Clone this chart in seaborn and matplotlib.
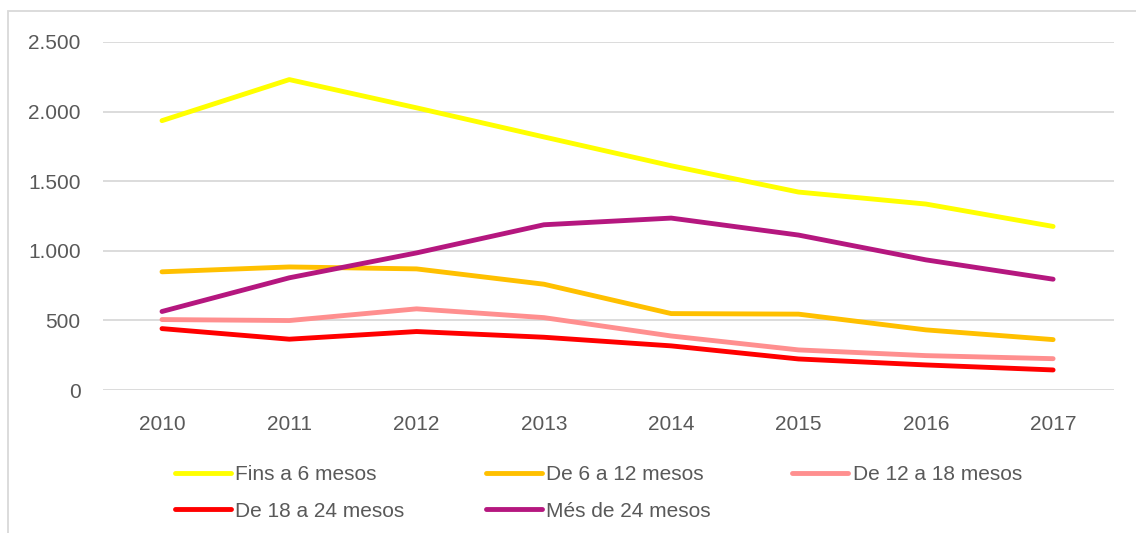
import pandas as pd
import matplotlib
matplotlib.use("Agg")
import matplotlib.pyplot as plt
from matplotlib.patches import Rectangle
from matplotlib.ticker import FuncFormatter
import seaborn as sns

# Data
years = ["2010", "2011", "2012", "2013", "2014", "2015", "2016", "2017"]
fins_6 = [1935, 2230, 2027, 1818, 1611, 1422, 1336, 1175]
de_6_12 = [849, 884, 870, 760, 549, 545, 432, 362]
de_12_18 = [506, 499, 583, 520, 388, 288, 247, 225]
de_18_24 = [441, 365, 420, 379, 317, 223, 180, 144]
mes_24 = [564, 806, 985, 1187, 1235, 1113, 935, 796]

series_names = ["Fins a 6 mesos", "De 6 a 12 mesos", "De 12 a 18 mesos",
                "De 18 a 24 mesos", "Més de 24 mesos"]
series_values = [fins_6, de_6_12, de_12_18, de_18_24, mes_24]
colors = ["#FFFF00", "#FFC000", "#FF8F8F", "#FF0000", "#B5177F"]

# Long form table for seaborn
df = pd.concat(
    [pd.DataFrame({"any": years, "valor": vals, "serie": name})
     for name, vals in zip(series_names, series_values)],
    ignore_index=True,
)

sns.set_style("white")
plt.rcParams["font.family"] = ["Liberation Sans", "DejaVu Sans"]
TEXT_COLOR = "#595959"
GRID_COLOR = "#D9D9D9"

W, H = 1136, 533
fig = plt.figure(figsize=(W / 100, H / 100), dpi=100)

# axes placed in pixel terms
left_px, right_px, top_px, bottom_px = 103, 1114, 42, 390
ax = fig.add_axes([left_px / W, 1 - bottom_px / H,
                   (right_px - left_px) / W, (bottom_px - top_px) / H])

sns.lineplot(
    data=df, x="any", y="valor", hue="serie",
    palette=dict(zip(series_names, colors)),
    linewidth=3.5, solid_capstyle="round", solid_joinstyle="round",
    sort=False, ax=ax, legend=False,
)

# Category axis: 2010 at x=162px, spacing ~127.3px
step = 127.3
ax.set_xlim((left_px - 162) / step, (right_px - 162) / step)
ax.set_ylim(0, 2500)
ax.set_yticks([0, 500, 1000, 1500, 2000, 2500])
ax.yaxis.set_major_formatter(FuncFormatter(lambda v, p: f"{int(v):,}".replace(",", ".")))

ax.grid(axis="y", color=GRID_COLOR, linewidth=1.3)
ax.grid(axis="x", visible=False)
ax.set_axisbelow(True)
for s in ax.spines.values():
    s.set_visible(False)

ax.tick_params(axis="y", length=0, pad=16, labelsize=15, labelcolor=TEXT_COLOR)
ax.tick_params(axis="x", length=0, pad=18, labelsize=15, labelcolor=TEXT_COLOR)
ax.set_xlabel("")
ax.set_ylabel("")

# Legend: 3 columns, row 1 = Fins / 6-12 / 12-18, row 2 = 18-24 / Més
lines = ax.get_lines()[:5]
order = [0, 3, 1, 4, 2]
fig.legend(
    [lines[i] for i in order], [series_names[i] for i in order],
    loc="upper left", bbox_to_anchor=(175 / W, 1 - 465 / H),
    ncol=3, frameon=False, fontsize=15, labelcolor=TEXT_COLOR,
    handlelength=2.7, handletextpad=0.2, columnspacing=3.9,
    labelspacing=0.85, borderpad=0, borderaxespad=0,
)

# Light chart-area border (cropped on the right and bottom)
fig.patches.append(Rectangle((8 / W, -0.1), 1.2, 1.1 - 11 / H,
                             transform=fig.transFigure, fill=False,
                             edgecolor=GRID_COLOR, linewidth=1.3))

fig.savefig("out.png", dpi=100)
